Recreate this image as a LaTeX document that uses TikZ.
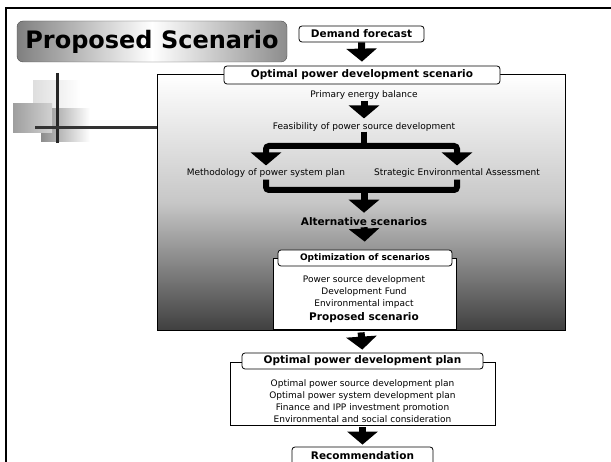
\documentclass[tikz,border=0pt]{standalone}
\usepackage{fontspec}
\setmainfont{DejaVu Sans}
\usetikzlibrary{arrows.meta}

\tikzset{
  tabbox/.style={draw=black, line width=0.8pt, fill=white, rounded corners=3pt, inner sep=0pt,
    font=\bfseries\fontsize{10.5}{12}\selectfont},
  bodybox/.style={draw=black, line width=0.8pt, fill=white, inner sep=0pt},
  plaintext/.style={inner sep=0pt, align=center, font=\fontsize{9}{12}\selectfont},
  boldtext/.style={inner sep=0pt, font=\bfseries\fontsize{10.5}{12}\selectfont},
  blockarrow/.style={line width=7pt, -{Triangle[width=30pt,length=13pt]}, black},
  fatline/.style={line width=6pt, black, rounded corners=3pt},
}

\begin{document}
\begin{tikzpicture}[x=1pt, y=-1pt]

    \useasboundingbox (0,0) rectangle (611,462);

    % slide frame
    \draw[line width=2pt, black] (6,462) |- (611,8);

    % logo squares
    \shade[left color=black!13, right color=white] (33,81) rectangle (80,111);
    \shade[left color=black!45, right color=white] (41,109) rectangle (90,142);
    \shade[left color=black!38, right color=black!18] (13,104) rectangle (52,133);
    \draw[line width=3pt, black!85] (57,73) -- (57,143);

    % title
    \node[draw=black!70, rounded corners=6pt, inner sep=0pt, minimum width=270pt, minimum height=41pt,
      left color=black!50, right color=black!45, middle color=white,
      font=\bfseries\fontsize{24}{28}\selectfont] (title) at (152,41.5) {Proposed Scenario};

    \node[tabbox, minimum width=125pt, minimum height=16pt] (demand) at (361.5,34) {Demand forecast};

    % scenario block
    \node[draw=black, line width=0.8pt, inner sep=0pt, minimum width=408pt, minimum height=255.5pt,
      top color=white, bottom color=black!75, middle color=black!22] (scenbox) at (361,202.25) {};
    \node[tabbox, minimum width=276pt, minimum height=18pt] (scentab) at (362,75) {Optimal power development scenario};

    \coordinate (logoend) at (35,128);
    \draw[line width=3pt, black!80] (logoend) -- (scenbox.west |- logoend);

    \node[plaintext] (prim) at (364,95) {Primary energy balance};
    \node[plaintext] (feas) at (364,127) {Feasibility of power source development};
    \coordinate (split) at (364,146);
    \node[plaintext] (meth) at (266,173) {Methodology of power system plan};
    \node[plaintext] (sea) at (457,173) {Strategic Environmental Assessment};
    \coordinate (merge) at (364,190);
    \node[boldtext] (alt) at (364,222) {Alternative scenarios};

    \node[bodybox, minimum width=183pt, minimum height=71pt] (optbody) at (364.5,293.5) {};
    \node[tabbox, font=\bfseries\fontsize{9}{11}\selectfont, minimum width=174pt, minimum height=16pt] (opttab) at (365,258) {Optimization of scenarios};
    \node[plaintext] (optlist) at (364,292.5) {Power source development\\Development Fund\\Environmental impact};
    \node[boldtext] (proposed) at (364,318) {Proposed scenario};

    % plan block
    \node[bodybox, minimum width=265pt, minimum height=63pt] (planbody) at (362.5,393.5) {};
    \node[tabbox, minimum width=241pt, minimum height=16pt] (plantab) at (362.5,361) {Optimal power development plan};
    \node[plaintext] (planlist) at (362.5,401) {Optimal power source development plan\\Optimal power system development plan\\Finance and IPP investment promotion\\Environmental and social consideration};

    \node[tabbox, minimum width=141pt, minimum height=18pt] (rec) at (362.5,456) {Recommendation};

    % arrows
    \draw[blockarrow, shorten >=4pt] (demand.south) -- (scentab.north);
    \draw[blockarrow, shorten <=1pt, shorten >=4pt] (prim.south) -- (feas.north);
    \draw[fatline] (feas.south) -- (split);
    \draw[fatline, -{Triangle[width=30pt,length=13pt]}, shorten >=3pt] (split) -| (meth.north);
    \draw[fatline, -{Triangle[width=30pt,length=13pt]}, shorten >=3pt] (split) -| (sea.north);
    \draw[fatline, shorten <=2pt, shorten >=2pt] (meth.south) |- (merge) -| (sea.south);
    \draw[blockarrow, shorten >=5pt] (merge) -- (alt.north);
    \draw[blockarrow, shorten <=1pt, shorten >=8pt] (alt.south) -- (opttab.north);
    \draw[blockarrow, shorten <=2pt, shorten >=3pt] (scenbox.south) -- (plantab.north);
    \draw[blockarrow, shorten <=2pt, shorten >=2pt] (planbody.south) -- (rec.north);

\end{tikzpicture}
\end{document}
